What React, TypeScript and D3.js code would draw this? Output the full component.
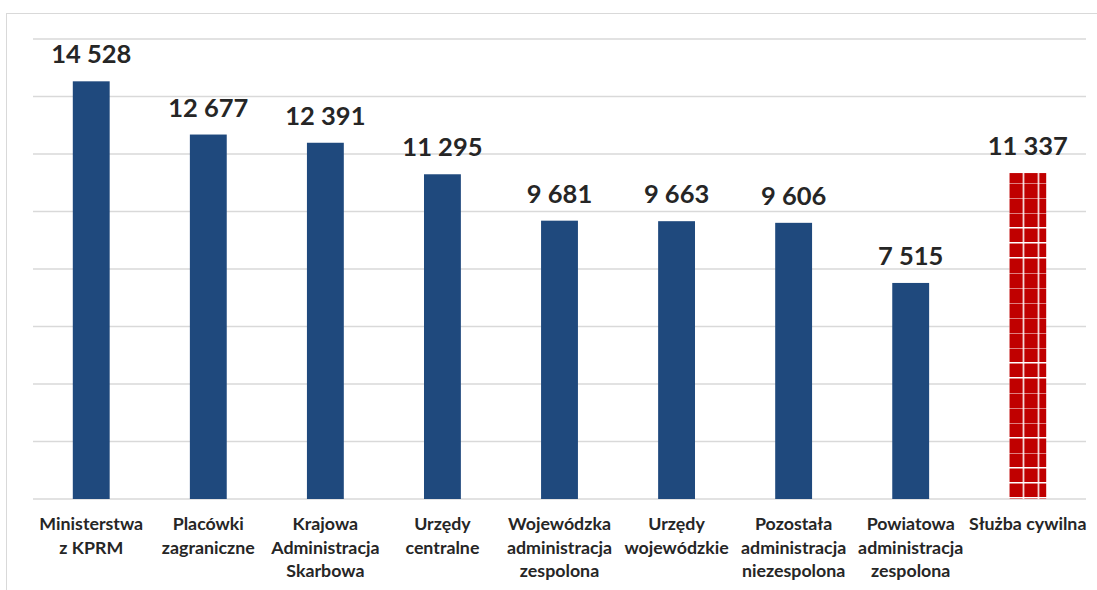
import React from "react";
import * as d3 from "d3";

const categories: string[][] = [
  ["Ministerstwa", "z KPRM"],
  ["Placówki", "zagraniczne"],
  ["Krajowa", "Administracja", "Skarbowa"],
  ["Urzędy", "centralne"],
  ["Wojewódzka", "administracja", "zespolona"],
  ["Urzędy", "wojewódzkie"],
  ["Pozostała", "administracja", "niezespolona"],
  ["Powiatowa", "administracja", "zespolona"],
  ["Służba cywilna"],
];
const values: number[] = [14528, 12677, 12391, 11295, 9681, 9663, 9606, 7515, 11337];
const highlighted: boolean[] = [false, false, false, false, false, false, false, false, true];
const gridTicks: number[] = [0, 2000, 4000, 6000, 8000, 10000, 12000, 14000, 16000];

const W = 1097;
const H = 590;
const FONT = "Lato, 'Open Sans', sans-serif";

const fmt = (v: number) => d3.format(",")(v).replace(/,/g, " ");

export default function App() {
  const left = 33;
  const right = 1086;
  const top = 39;
  const bottom = 499;

  const ids = categories.map((_, i) => String(i));
  const x = d3.scaleBand<string>().domain(ids).range([left, right]).paddingInner(0.685).paddingOuter(0.34);
  const y = d3.scaleLinear().domain([0, 16000]).range([bottom, top]);

  const bw = x.bandwidth();
  const hiIdx = highlighted.indexOf(true);
  const patX = hiIdx >= 0 ? (x(String(hiIdx)) as number) : 0;
  const patY = y(0) - 2;

  return (
    <div style={{ position: "absolute", left: 0, top: 0 }}>
      <svg width={W} height={H} style={{ display: "block", background: "#fff" }}>
        <defs>
          <pattern id="gridRed" patternUnits="userSpaceOnUse" x={patX} y={patY} width={15} height={15}>
            <rect width={15} height={15} fill="#fff" />
            <rect x={0} y={1.5} width={13.5} height={13.5} fill="#C00000" />
          </pattern>
        </defs>
        {/* outer chart frame */}
        <rect x={6.5} y={13.5} width={W + 10} height={H + 10} fill="none" stroke="#D9D9D9" strokeWidth={1} />
        {/* horizontal gridlines */}
        {gridTicks.map((t) => (
          <line key={t} x1={left} x2={right} y1={y(t)} y2={y(t)} stroke="#D9D9D9" strokeWidth={1.5} />
        ))}
        {/* bars */}
        {values.map((v, i) => (
          <rect
            key={i}
            x={x(String(i))}
            y={y(v)}
            width={bw}
            height={y(0) - y(v)}
            fill={highlighted[i] ? "url(#gridRed)" : "#1F497D"}
          />
        ))}
        {/* value labels */}
        {values.map((v, i) => (
          <text
            key={i}
            x={(x(String(i)) as number) + bw / 2}
            y={y(v) - 18}
            textAnchor="middle"
            fontFamily={FONT}
            fontWeight={700}
            fontSize={25.5}
            fill="#262626"
          >
            {fmt(v)}
          </text>
        ))}
        {/* category labels */}
        {categories.map((lines, i) => (
          <text
            key={i}
            x={(x(String(i)) as number) + bw / 2}
            y={530}
            textAnchor="middle"
            fontFamily={FONT}
            fontWeight={700}
            fontSize={17.8}
            fill="#262626"
          >
            {lines.map((l, j) => (
              <tspan key={j} x={(x(String(i)) as number) + bw / 2} dy={j === 0 ? 0 : 23.5}>
                {l}
              </tspan>
            ))}
          </text>
        ))}
      </svg>
    </div>
  );
}
